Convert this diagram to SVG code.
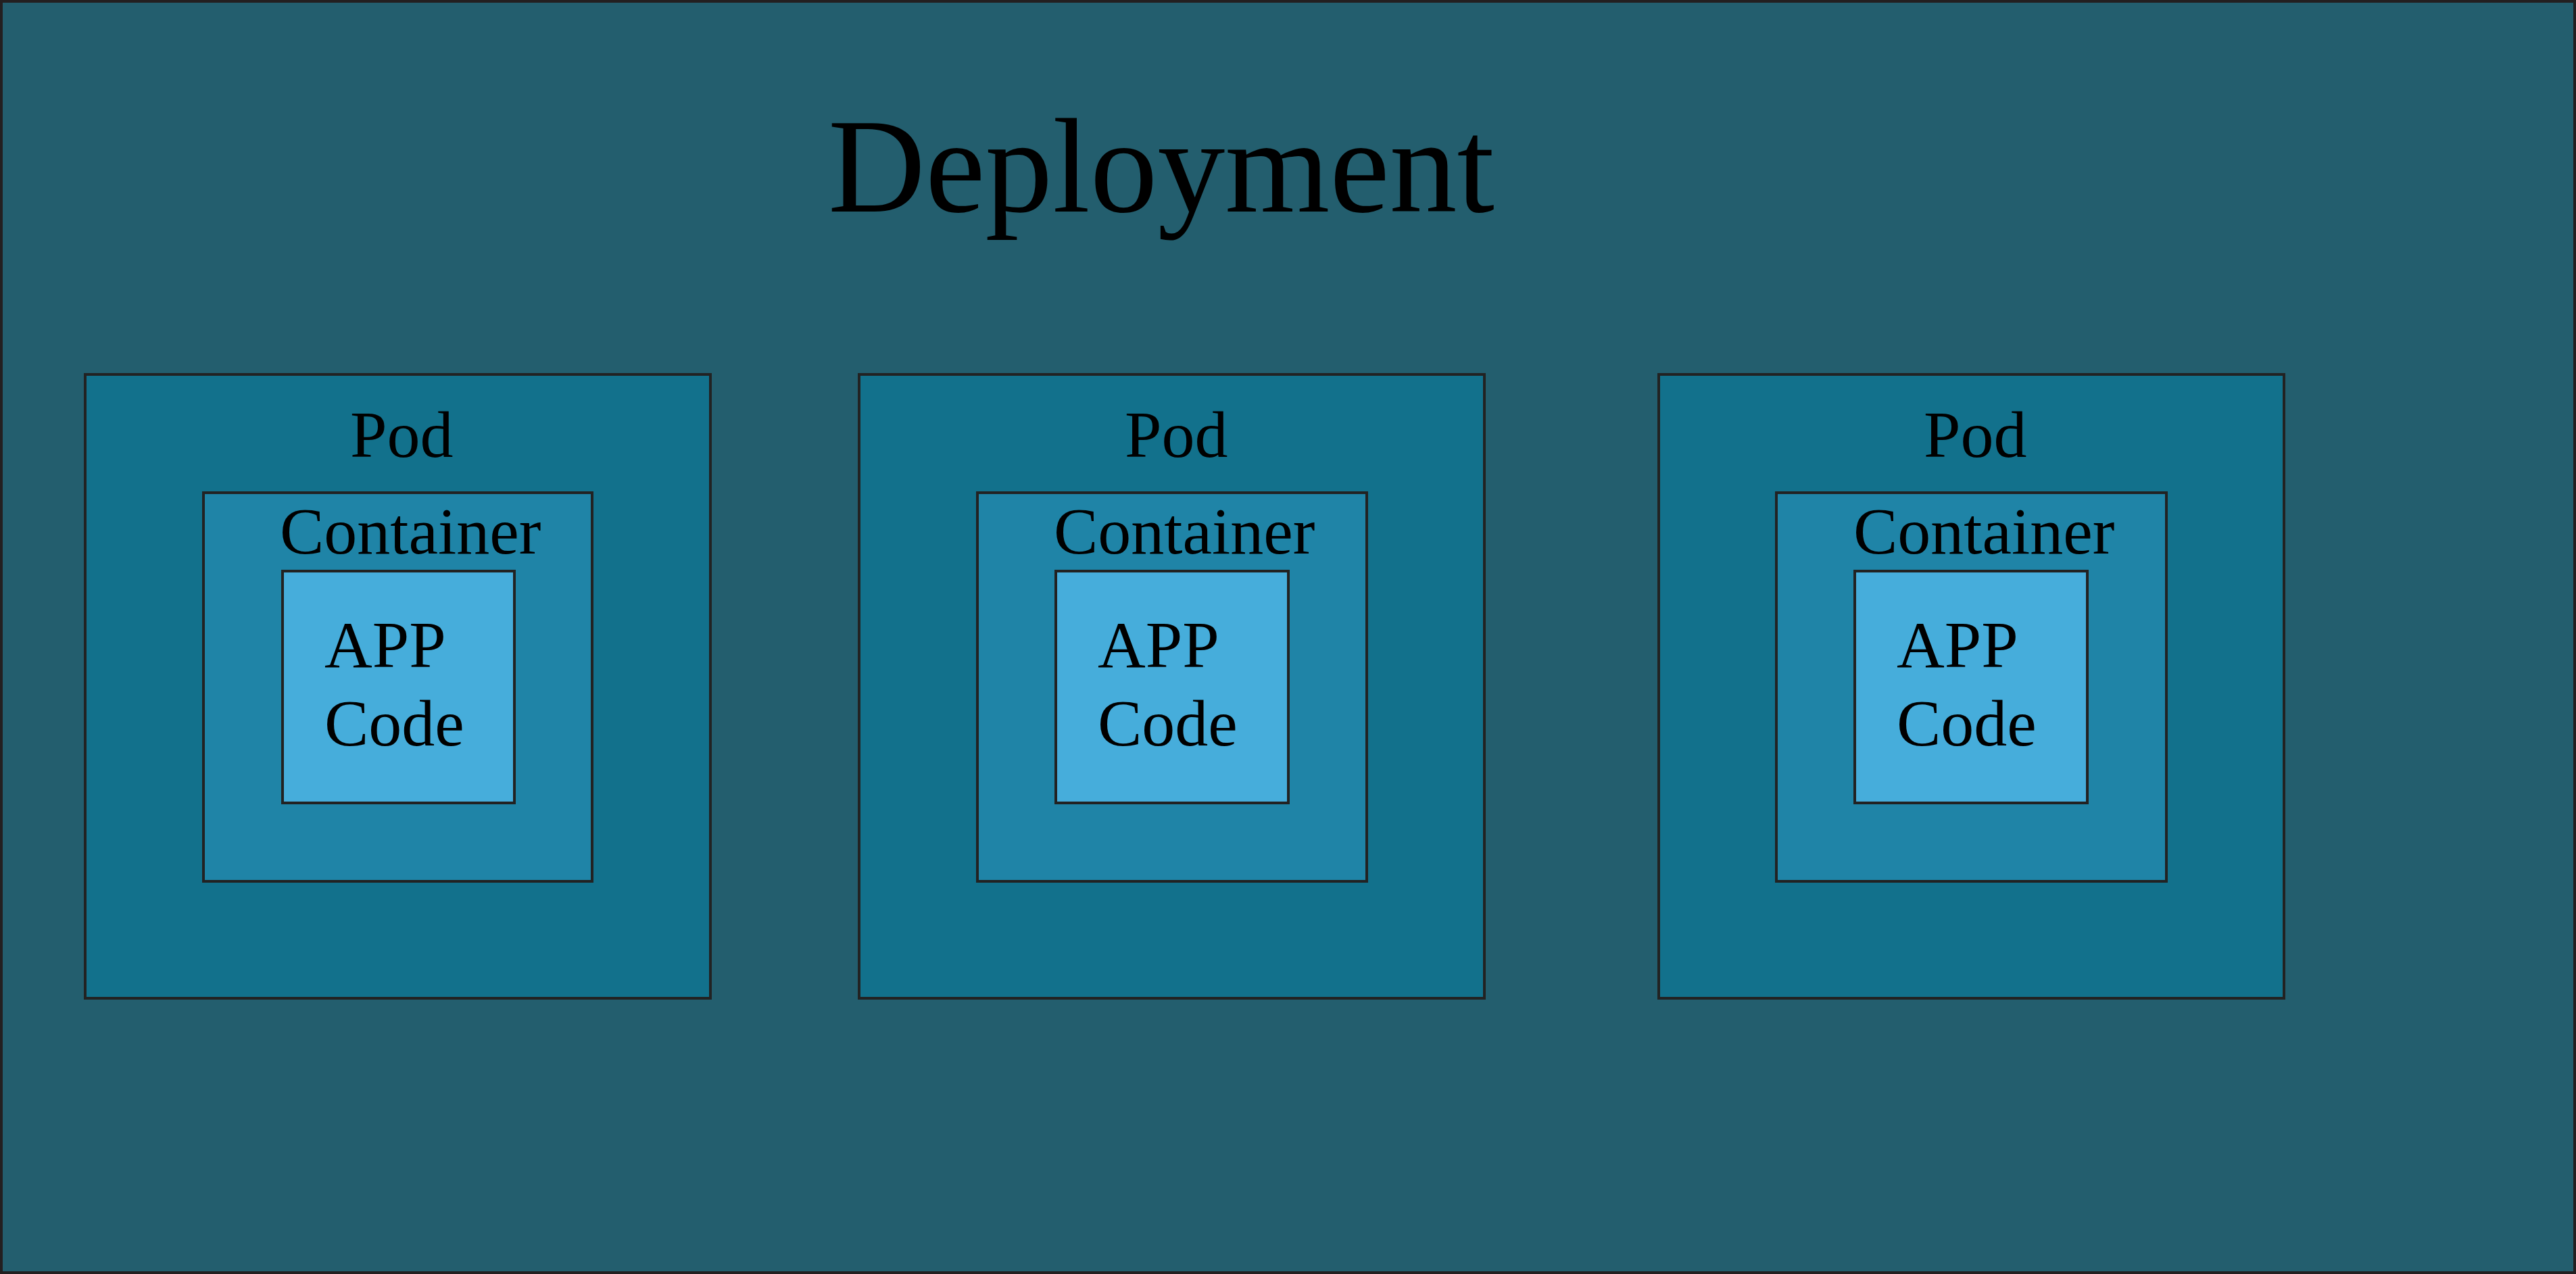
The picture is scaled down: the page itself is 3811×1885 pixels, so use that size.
<svg xmlns="http://www.w3.org/2000/svg" width="3811" height="1885" viewBox="0 0 3811 1885">
<style>
.bg{fill:#235e6e;stroke:#231f20;stroke-width:8}
.pod{fill:#12718c;stroke:#222;stroke-width:4}
.ctr{fill:#1f84a7;stroke:#222;stroke-width:4}
.app{fill:#46addb;stroke:#222;stroke-width:4}
text{font-family:"Liberation Serif","Times New Roman",serif;fill:#000}
.lbl{font-size:98px}
.title{font-size:200px}
</style>
<g id="deployment">
<rect class="bg" x="0" y="0" width="3811" height="1885"/>
<text class="title" x="1225" y="313" textLength="986" lengthAdjust="spacingAndGlyphs">Deployment</text>
</g>
<g id="pod1">
<rect class="pod" x="126" y="554" width="925" height="923"/>
<text class="lbl" x="518" y="676">Pod</text>
<g id="container1">
<rect class="ctr" x="301" y="729" width="575" height="575"/>
<text class="lbl" x="414" y="819">Container</text>
<g id="app1">
<rect class="app" x="418" y="845" width="343" height="343"/>
<text class="lbl" x="480" y="987">APP</text>
<text class="lbl" x="480" y="1103">Code</text>
</g>
</g>
</g>
<g id="pod2">
<rect class="pod" x="1271" y="554" width="925" height="923"/>
<text class="lbl" x="1664" y="676">Pod</text>
<g id="container2">
<rect class="ctr" x="1446" y="729" width="576" height="575"/>
<text class="lbl" x="1559" y="819">Container</text>
<g id="app2">
<rect class="app" x="1562" y="845" width="344" height="343"/>
<text class="lbl" x="1624" y="987">APP</text>
<text class="lbl" x="1624" y="1103">Code</text>
</g>
</g>
</g>
<g id="pod3">
<rect class="pod" x="2454" y="554" width="925" height="923"/>
<text class="lbl" x="2846" y="676">Pod</text>
<g id="container3">
<rect class="ctr" x="2628" y="729" width="577" height="575"/>
<text class="lbl" x="2742" y="819">Container</text>
<g id="app3">
<rect class="app" x="2744" y="845" width="344" height="343"/>
<text class="lbl" x="2806" y="987">APP</text>
<text class="lbl" x="2806" y="1103">Code</text>
</g>
</g>
</g>
<g id="connectors"></g>
</svg>
